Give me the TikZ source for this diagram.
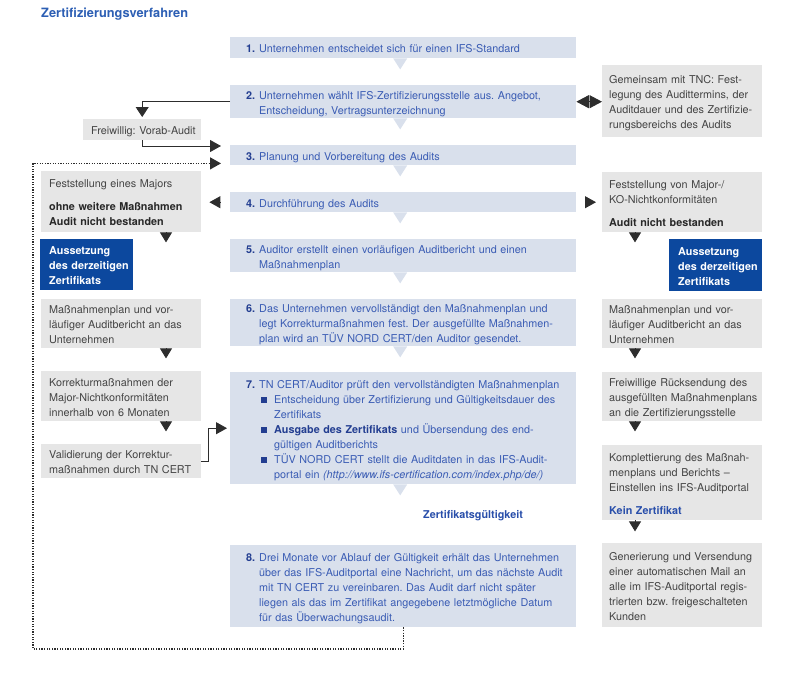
\documentclass[tikz,border=0pt]{standalone}
\usepackage{fontspec}
\setmainfont{TeX Gyre Heros}
\usetikzlibrary{arrows.meta,calc}
\frenchspacing
\definecolor{boxblue}{RGB}{217,224,236}
\definecolor{boxgrey}{RGB}{230,230,230}
\definecolor{darkblue}{RGB}{12,72,158}
\definecolor{txtblue}{RGB}{58,92,180}
\definecolor{numblue}{RGB}{35,62,145}
\definecolor{kblue}{RGB}{40,78,170}
\definecolor{txtgrey}{RGB}{68,68,68}
\definecolor{boldgrey}{RGB}{40,40,40}
\definecolor{titleblue}{RGB}{45,95,180}
\definecolor{linegrey}{RGB}{45,45,45}
\newcommand\nr[1]{\makebox[13pt][l]{\bfseries\color{numblue}#1}}
\newcommand\bul{\makebox[15pt][l]{\hspace{2pt}\textcolor{numblue}{\rule[0.6pt]{5.5pt}{5.5pt}}}}
\newcommand\dwn[1]{\raisebox{-2pt}[\height][\depth]{#1}}
\newcommand\lns[1]{\dwn{\begin{tabular}{@{}l@{}}#1\end{tabular}}}
\newcommand\stp[1]{\dwn{\begin{tabular}{@{}l@{}l@{}}#1\end{tabular}}}
\newcommand\bgr[1]{\textcolor{boldgrey}{\bfseries #1}}
\newcommand\tail[1]{\fill[boxblue] ([xshift=-10pt]#1.south) -- ([xshift=4pt]#1.south) -- ([xshift=-3pt,yshift=-11pt]#1.south) -- cycle;}
\tikzset{
  base/.style={anchor=north west, inner xsep=0pt, inner ysep=0pt, align=left, font=\fontsize{10.8}{15}\selectfont},
  stepbox/.style={base, fill=boxblue, text=txtblue, minimum width=346pt, text width=314pt},
  greybox/.style={base, fill=boxgrey, text=txtgrey, minimum width=160pt},
  leftgrey/.style={greybox, text width=144pt},
  rightgrey/.style={greybox, text width=146pt},
  darkbox/.style={base, fill=darkblue, text=white, font=\fontsize{10.8}{15}\selectfont\bfseries, minimum width=93pt, text width=75pt},
  tip/.style={-{Triangle[length=11pt,width=12pt]}},
  downtip/.style={-{Triangle[length=10pt,width=12pt]}},
  conn/.style={draw=linegrey, line width=0.9pt},
  dots/.style={conn, line width=1.3pt, dash pattern=on 1.3pt off 1.3pt}
}
\begin{document}
\begin{tikzpicture}[x=1pt,y=-1pt]
\useasboundingbox (0,0) rectangle (800,685);
\node[anchor=west, inner sep=0pt, font=\fontsize{12.8}{15}\selectfont\bfseries, text=titleblue] (title) at (41,14) {Zertifizierungsverfahren};

% middle column
\node[stepbox, minimum height=21pt] (b1) at (230,37) {\stp{\nr{1.}&Unternehmen entscheidet sich für einen IFS-Standard}};
\node[stepbox, minimum height=33pt] (b2) at (230,85) {\stp{\nr{2.}&Unternehmen wählt IFS-Zertifizierungsstelle aus. Angebot,\\ &Entscheidung, Vertragsunterzeichnung}};
\node[stepbox, minimum height=20pt] (b3) at (230,145) {\stp{\nr{3.}&Planung und Vorbereitung des Audits}};
\node[stepbox, minimum height=20pt] (b4) at (230,192) {\stp{\nr{4.}&Durchführung des Audits}};
\node[stepbox, minimum height=33pt] (b5) at (230,239) {\stp{\nr{5.}&Auditor erstellt einen vorläufigen Auditbericht und einen\\ &Maßnahmenplan}};
\node[stepbox, minimum height=47pt] (b6) at (230,299) {\stp{\nr{6.}&Das Unternehmen vervollständigt den Maßnahmenplan und\\ &legt Korrekturmaßnahmen fest. Der ausgefüllte Maßnahmen-\\ &plan wird an TÜV NORD CERT/den Auditor gesendet.}};
\node[stepbox, minimum height=112pt] (b7) at (230,372) {\dwn{\begin{tabular}{@{}l@{}l@{}l@{}}\nr{7.}&\multicolumn{2}{@{}l@{}}{TN CERT/Auditor prüft den vervollständigten Maßnahmenplan}\\
 &\bul&Entscheidung über Zertifizierung und Gültigkeitsdauer des\\
 &&Zertifikats\\
 &\bul&\textcolor{numblue}{\bfseries Ausgabe des Zertifikats} und Übersendung des end-\\
 &&gültigen Auditberichts\\
 &\bul&TÜV NORD CERT stellt die Auditdaten in das IFS-Audit-\\
 &&portal ein \textit{(http://www.ifs-certification.com/index.php/de/)}\end{tabular}}};
\node[stepbox, minimum height=82pt] (b8) at (230,545) {\stp{\nr{8.}&Drei Monate vor Ablauf der Gültigkeit erhält das Unternehmen\\ &über das IFS-Auditportal eine Nachricht, um das nächste Audit\\ &mit TN CERT zu vereinbaren. Das Audit darf nicht später\\ &liegen als das im Zertifikat angegebene letztmögliche Datum\\ &für das Überwachungsaudit.}};
\tail{b1}\tail{b2}\tail{b3}\tail{b4}\tail{b5}\tail{b6}\tail{b7}
\node[inner sep=0pt, font=\fontsize{10.8}{15}\selectfont\bfseries, text=kblue] (zg) at (473,516) {Zertifikatsgültigkeit};

% left column
\node[greybox, minimum width=118pt, text width=102pt, minimum height=21pt] (fw) at (83,119) {\lns{Freiwillig: Vorab-Audit}};
\node[leftgrey, minimum height=61pt] (lf1) at (41,171) {\lns{Feststellung eines Majors\\[8pt]\bgr{ohne weitere Maßnahmen}\\\bgr{Audit nicht bestanden}}};
\node[darkbox, minimum height=51pt] (lf2) at (40,239) {\lns{Aussetzung\\des derzeitigen\\Zertifikats}};
\node[leftgrey, minimum height=49pt] (lf3) at (41,299) {\lns{Maßnahmenplan und vor-\\läufiger Auditbericht an das\\Unternehmen}};
\node[leftgrey, minimum height=50pt] (lf4) at (41,371) {\lns{Korrekturmaßnahmen der\\Major-Nichtkonformitäten\\innerhalb von 6 Monaten}};
\node[leftgrey, minimum height=34pt] (lf5) at (41,444) {\lns{Validierung der Korrektur-\\maßnahmen durch TN CERT}};

% right column
\node[rightgrey, minimum height=72pt] (rg1) at (602,65) {\lns{Gemeinsam mit TNC: Fest-\\legung des Audittermins, der\\Auditdauer und des Zertifizie-\\rungsbereichs des Audits}};
\node[rightgrey, minimum height=60pt] (rg2) at (602,172) {\lns{Feststellung von Major-/\\KO-Nichtkonformitäten\\[8pt]\bgr{Audit nicht bestanden}}};
\node[darkbox, minimum height=52pt] (rg3) at (669,239) {\lns{Aussetzung\\des derzeitigen\\Zertifikats}};
\node[rightgrey, minimum height=49pt] (rg4) at (602,299) {\lns{Maßnahmenplan und vor-\\läufiger Auditbericht an das\\Unternehmen}};
\node[rightgrey, minimum height=49pt] (rg5) at (602,372) {\lns{Freiwillige Rücksendung des\\ausgefüllten Maßnahmenplans\\an die Zertifizierungsstelle}};
\node[rightgrey, minimum height=75pt] (rg6) at (602,445) {\lns{Komplettierung des Maßnah-\\menplans und Berichts –\\Einstellen ins IFS-Auditportal\\[8pt]\textcolor{kblue}{\bfseries Kein Zertifikat}}};
\node[rightgrey, minimum height=84pt] (rg7) at (602,543) {\lns{Generierung und Versendung\\einer automatischen Mail an\\alle im IFS-Auditportal regis-\\trierten bzw. freigeschalteten\\Kunden}};

% helper coordinates
\coordinate (LA) at (166,0);
\coordinate (RA) at (635,0);
\coordinate (dl) at (33,649);

% connectors
\draw[conn, -{Triangle[length=10pt,width=13pt]}, shorten >=2pt] (b2.west) -| (fw.north);
\draw[conn, tip, shorten >=9pt] (fw.south) |- ([yshift=-1pt]b3.north west);
\draw[dots, tip, shorten >=9pt] (b8.south) |- (dl) |- ([yshift=2pt]b3.south west);
\draw[conn, {Triangle[length=12.5pt,width=13pt]}-{Triangle[length=12.5pt,width=13pt]}] (b2.east) -- (rg1.west |- b2.east);
\draw[conn, tip, shorten <=10pt, shorten >=8pt] (b4.west) -- (lf1.east |- b4.west);
\draw[conn, tip, shorten <=9pt, shorten >=6pt] (b4.east) -- (rg2.west |- b4.east);
\draw[conn, tip, shorten >=3pt] (lf5.east) -- ++(7,0) |- (b7.west);

\draw[conn, downtip] (lf1.south -| LA) -- ++(0,10);
\draw[conn, downtip] (lf3.south -| LA) -- ++(0,10);
\draw[conn, downtip] (lf4.south -| LA) -- ++(0,10);
\draw[conn, downtip] (rg2.south -| RA) -- ++(0,10);
\draw[conn, downtip] (rg4.south -| RA) -- ++(0,10);
\draw[conn, downtip] (rg5.south -| RA) -- ++(0,10);
\draw[conn, downtip] (rg6.south -| RA) -- ++(0,11);
\end{tikzpicture}
\end{document}
